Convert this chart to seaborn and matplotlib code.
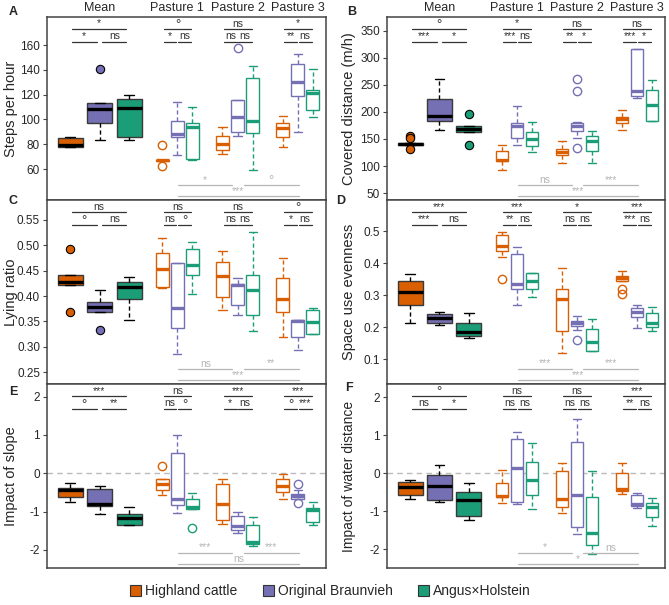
import numpy as np
import matplotlib
matplotlib.use("Agg")
import matplotlib.pyplot as plt
import matplotlib.transforms as mtrans
from matplotlib.patches import Patch
from matplotlib.ticker import FormatStrFormatter
import seaborn as sns

# breeds and groups
breeds = ["Highland cattle", "Original Braunvieh", "Angus×Holstein"]
groups = ["Mean", "Pasture 1", "Pasture 2", "Pasture 3"]

# box stats per panel: (whislo, q1, med, q3, whishi), order Mean HC/OB/AH, P1 ..., P2 ..., P3 ...
steps_stats = [(77.5, 77.5, 79, 85, 86), (83, 97.5, 108.5, 113, 113), (83, 86, 109, 116.5, 120),
               (66.5, 66.5, 67, 67.5, 67.5), (71, 85.5, 88, 99, 114), (67.5, 68, 94, 97, 110),
               (72, 75, 80, 87, 94), (87, 90, 102, 116, 116), (59, 89, 98.5, 133, 143),
               (77.5, 86, 93, 97.5, 103), (90, 118.5, 130, 144.5, 153), (102, 107.5, 121.5, 124, 140.5)]
steps_fliers = [[], [141], [], [79.5, 62.5], [], [], [], [157.5], [], [], [], []]

dist_stats = [(139, 139, 141, 143, 143), (166, 183, 192, 224, 261), (163, 163, 169, 174, 174),
              (93, 110, 112, 128, 138), (138, 152, 173, 179, 210), (125, 137, 149, 162, 181),
              (105, 120, 126, 131, 146), (152, 165, 173, 180, 181), (105, 128, 146, 155, 165),
              (166, 179, 187, 191, 203), (226, 229, 238, 316, 316), (184, 184, 212, 241, 259)]
dist_fliers = [[156, 151, 132], [], [196, 139], [], [], [], [], [260, 238, 134], [], [], [], []]

lying_stats = [(0.421, 0.421, 0.4285, 0.441, 0.441), (0.369, 0.369, 0.379, 0.389, 0.411),
               (0.353, 0.394, 0.417, 0.428, 0.437),
               (0.415, 0.417, 0.453, 0.484, 0.514), (0.287, 0.337, 0.376, 0.466, 0.466),
               (0.405, 0.442, 0.461, 0.492, 0.507),
               (0.373, 0.398, 0.440, 0.468, 0.488), (0.362, 0.383, 0.421, 0.424, 0.435),
               (0.331, 0.362, 0.412, 0.442, 0.527),
               (0.319, 0.368, 0.394, 0.435, 0.475), (0.293, 0.319, 0.350, 0.353, 0.353),
               (0.325, 0.325, 0.348, 0.373, 0.376)]
lying_fliers = [[0.492, 0.368], [0.334], [], [], [], [], [], [], [], [], [], []]

even_stats = [(0.214, 0.269, 0.309, 0.344, 0.366), (0.207, 0.212, 0.228, 0.241, 0.247),
              (0.166, 0.173, 0.186, 0.212, 0.246),
              (0.418, 0.438, 0.454, 0.488, 0.497), (0.269, 0.318, 0.335, 0.427, 0.449),
              (0.295, 0.318, 0.345, 0.368, 0.370),
              (0.119, 0.189, 0.287, 0.318, 0.384), (0.191, 0.205, 0.214, 0.221, 0.234),
              (0.127, 0.127, 0.153, 0.194, 0.225),
              (0.345, 0.345, 0.353, 0.360, 0.376), (0.197, 0.233, 0.249, 0.261, 0.271),
              (0.188, 0.202, 0.212, 0.243, 0.264)]
even_fliers = [[], [], [], [0.351], [], [], [], [0.159], [], [0.318, 0.305], [], []]

slope_stats = [(-0.757, -0.626, -0.435, -0.374, -0.26), (-1.06, -0.852, -0.80, -0.409, -0.322),
               (-1.35, -1.348, -1.174, -1.06, -0.887),
               (-0.574, -0.435, -0.287, -0.157, -0.157), (-1.026, -0.826, -0.661, 0.522, 1.0),
               (-0.94, -0.939, -0.887, -0.67, -0.504),
               (-1.33, -1.217, -0.80, -0.278, -0.157), (-1.565, -1.478, -1.365, -1.104, -1.0),
               (-1.887, -1.843, -1.80, -1.348, -1.148),
               (-0.67, -0.478, -0.322, -0.157, -0.017), (-0.67, -0.67, -0.591, -0.548, -0.435),
               (-1.348, -1.278, -0.957, -0.913, -0.757)]
slope_fliers = [[], [], [], [0.2], [], [-1.435], [], [], [], [], [-0.287, -0.78], []]

water_stats = [(-0.675, -0.57, -0.35, -0.237, -0.175), (-0.746, -0.70, -0.325, -0.053, 0.22),
               (-1.228, -1.123, -0.70, -0.482, -0.263),
               (-0.79, -0.632, -0.596, -0.263, 0.088), (-0.807, -0.763, 0.149, 0.904, 1.08),
               (-0.939, -0.57, -0.175, 0.307, 0.807),
               (-1.053, -0.895, -0.684, 0.07, 0.263), (-1.605, -1.404, -0.57, 0.833, 1.43),
               (-2.13, -1.886, -1.561, -0.614, 0.061),
               (-0.544, -0.465, -0.412, 0.0, 0.263), (-0.921, -0.851, -0.807, -0.57, -0.51),
               (-1.377, -1.158, -0.877, -0.789, -0.64)]
water_fliers = [[], [], [], [], [], [], [], [], [], [], [], []]

# significance labels: per group (top, left pair, right pair), then pasture comparisons (P1-P2, P2-P3, P1-P3)
steps_sig = ["*", "*", "ns", "°", "*", "ns", "ns", "ns", "ns", "*", "**", "ns"]
steps_past = ["*", "°", "***"]
dist_sig = ["°", "***", "*", "*", "***", "ns", "ns", "**", "*", "ns", "***", "*"]
dist_past = ["ns", "***", "***"]
lying_sig = ["ns", "°", "ns", "ns", "ns", "°", "ns", "ns", "ns", "°", "*", "ns"]
lying_past = ["ns", "**", "***"]
even_sig = ["***", "***", "ns", "***", "**", "ns", "*", "ns", "ns", "***", "***", "ns"]
even_past = ["***", "***", "***"]
slope_sig = ["***", "°", "**", "ns", "ns", "°", "***", "*", "ns", "***", "°", "***"]
slope_past = ["***", "***", "ns"]
water_sig = ["°", "ns", "*", "ns", "ns", "ns", "ns", "ns", "ns", "***", "**", "ns"]
water_past = ["*", "ns", "*"]

sns.set_theme(style="ticks")
plt.rcParams['font.family'] = ['Liberation Sans', 'DejaVu Sans']
dark2 = sns.color_palette("Dark2", 3)
colors = [dark2[1], dark2[2], dark2[0]]

fig = plt.figure(figsize=(6.69, 6.05), dpi=100)

mean_pos = [0.77, 1.75, 2.73]
past_centers = [4.33, 6.33, 8.33]
past_off = [-0.5, 0.0, 0.5]

W, H = 669, 605


def px_axes(x0, y0, x1, y1):
    return fig.add_axes([x0 / W, 1 - y1 / H, (x1 - x0) / W, (y1 - y0) / H])


def draw_panel(ax, stats, fliers, sig, past, ylabel, ylim, yticks, fmt, labx, labsize=10.5,
               zero=False, titles=False):
    for i, (st, fl) in enumerate(zip(stats, fliers)):
        g, b = divmod(i, 3)
        c = colors[b]
        d = dict(whislo=st[0], q1=st[1], med=st[2], q3=st[3], whishi=st[4], fliers=np.array(fl))
        if g == 0:
            ax.bxp([d], positions=[mean_pos[b]], widths=[0.83], capwidths=[0.33], patch_artist=True,
                   manage_ticks=False,
                   boxprops=dict(facecolor=c, edgecolor="#3a3a3a", linewidth=1),
                   medianprops=dict(color="black", linewidth=2.4),
                   whiskerprops=dict(color="black", linewidth=1, linestyle=(0, (3, 2))),
                   capprops=dict(color="black", linewidth=1),
                   flierprops=dict(marker="o", markerfacecolor=c, markeredgecolor="black",
                                   markersize=6, markeredgewidth=0.8))
        else:
            ax.bxp([d], positions=[past_centers[g - 1] + past_off[b]], widths=[0.42], capwidths=[0.27],
                   patch_artist=True, manage_ticks=False,
                   boxprops=dict(facecolor="white", edgecolor=c, linewidth=1),
                   medianprops=dict(color=c, linewidth=2.4),
                   whiskerprops=dict(color=c, linewidth=1, linestyle=(0, (3, 2))),
                   capprops=dict(color=c, linewidth=1),
                   flierprops=dict(marker="o", markerfacecolor="none", markeredgecolor=c,
                                   markersize=6, markeredgewidth=1))
    if zero:
        ax.axhline(0, color="#bbbbbb", lw=1, ls=(0, (4, 3)), zorder=0)

    tr = mtrans.blended_transform_factory(ax.transData, ax.transAxes)

    def bracket(x0, x1, yf, txt, col):
        ax.plot([x0, x1], [yf, yf], transform=tr, color=col, lw=0.9, clip_on=False)
        if txt == "°":
            ax.text((x0 + x1) / 2, yf - 0.012, txt, transform=tr, ha="center", va="bottom",
                    fontsize=9.5, color=col)
        else:
            ax.text((x0 + x1) / 2, yf + 0.004, txt, transform=tr, ha="center", va="bottom",
                    fontsize=7.5, color=col)

    for g in range(4):
        if g == 0:
            c0, c1, c2 = mean_pos
            gap = 0.09
        else:
            c0, c1, c2 = [past_centers[g - 1] + o for o in past_off]
            gap = 0.03
        top, left, right = sig[3 * g:3 * g + 3]
        bracket(c0 + 0.05, c2 - gap, 0.933, top, "#333333")
        bracket(c0 + 0.05, c1 - gap, 0.866, left, "#333333")
        bracket(c1 + gap, c2 - gap, 0.866, right, "#333333")

    gray = "#b5b5b5"
    bracket(4.36, 6.16, 0.08, past[0], gray)
    bracket(6.55, 8.36, 0.08, past[1], gray)
    bracket(4.36, 8.36, 0.02, past[2], gray)

    ax.set_xlim(0, 9.27)
    ax.set_ylim(*ylim)
    ax.set_yticks(yticks)
    ax.yaxis.set_major_formatter(FormatStrFormatter(fmt))
    ax.set_xticks([])
    ax.tick_params(axis="y", length=3, width=0.8, color="#444444", labelsize=8.5, pad=2)
    for s in ax.spines.values():
        s.set_color("#444444")
        s.set_linewidth(1.1)
    ax.set_ylabel(ylabel, fontsize=labsize)
    ax.yaxis.set_label_coords(labx, 0.5)

    if titles:
        for k, name in enumerate(groups):
            x = 1.75 if k == 0 else past_centers[k - 1]
            ax.text(x, 1.015, name, transform=tr, ha="center", va="bottom", fontsize=9)


axA = px_axes(47, 17, 326, 200)
axC = px_axes(47, 200, 326, 384)
axE = px_axes(47, 384, 326, 568)
axB = px_axes(387, 17, 665, 200)
axD = px_axes(387, 200, 665, 384)
axF = px_axes(387, 384, 665, 568)

left_lab = (18 - 47) / 279
right_lab = (356 - 387) / 278

draw_panel(axA, steps_stats, steps_fliers, steps_sig, steps_past, "Steps per hour",
           (35, 182.6), np.arange(60, 161, 20), "%d", left_lab, titles=True)
draw_panel(axB, dist_stats, dist_fliers, dist_sig, dist_past, "Covered distance (m/h)",
           (37.2, 375.3), np.arange(50, 351, 50), "%d", right_lab, titles=True)
draw_panel(axC, lying_stats, lying_fliers, lying_sig, lying_past, "Lying ratio",
           (0.227, 0.589), np.arange(0.25, 0.551, 0.05), "%.2f", left_lab)
draw_panel(axD, even_stats, even_fliers, even_sig, even_past, "Space use evenness",
           (0.023, 0.597), np.arange(0.1, 0.51, 0.1), "%.1f", right_lab)
draw_panel(axE, slope_stats, slope_fliers, slope_sig, slope_past, "Impact of slope",
           (-2.47, 2.33), np.arange(-2, 3, 1), "%d", left_lab, zero=True)
draw_panel(axF, water_stats, water_fliers, water_sig, water_past, "Impact of water distance",
           (-2.49, 2.35), np.arange(-2, 3, 1), "%d", right_lab, labsize=10, zero=True)

for lab, (x, y) in zip("ABCDEF", [(13, 12), (352, 12), (13, 201), (341, 201), (13, 392), (349, 388)]):
    fig.text(x / W, 1 - y / H, lab, fontsize=9, fontweight="bold", ha="center", va="center")

handles = [Patch(facecolor=c, edgecolor="#333333", linewidth=0.8, label=b) for c, b in zip(colors, breeds)]
fig.legend(handles=handles, loc="center", bbox_to_anchor=(0.494, 0.023), ncol=3, frameon=False,
           fontsize=10, handlelength=0.8, handleheight=0.8, handletextpad=0.3, columnspacing=1.8)

fig.savefig("out.png", dpi=100, facecolor="white")
